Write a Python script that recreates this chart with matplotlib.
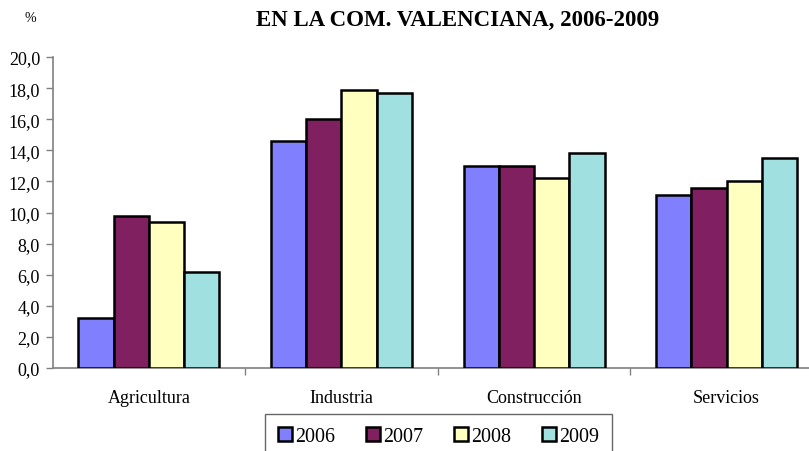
import matplotlib
matplotlib.use("Agg")
import matplotlib.pyplot as plt
import numpy as np

categories = ["Agricultura", "Industria", "Construcción", "Servicios"]
years = ["2006", "2007", "2008", "2009"]
v2006 = [3.2, 14.6, 13.0, 11.1]
v2007 = [9.8, 16.0, 13.0, 11.6]
v2008 = [9.4, 17.9, 12.2, 12.0]
v2009 = [6.2, 17.7, 13.8, 13.5]
yticks = [0, 2, 4, 6, 8, 10, 12, 14, 16, 18, 20]
ytick_labels = ["0,0", "2,0", "4,0", "6,0", "8,0", "10,0", "12,0", "14,0", "16,0", "18,0", "20,0"]

colors = ["#8080FF", "#802060", "#FFFFC0", "#A0E0E0"]
series = [v2006, v2007, v2008, v2009]

plt.rcParams["font.family"] = ["Liberation Serif", "DejaVu Serif"]

fig = plt.figure(figsize=(8.09, 4.52), dpi=100)
ax = fig.add_axes([52.5 / 809, 1 - 369 / 452, 770.5 / 809, 311 / 452])

x = np.arange(len(categories))
bw = 0.183
for i, (vals, col, yr) in enumerate(zip(series, colors, years)):
    ax.bar(x + (i - 1.5) * bw, vals, width=bw, color=col, edgecolor="black",
           linewidth=1.8, label=yr, zorder=3)

ax.set_xlim(-0.5, len(categories) - 0.5)
ax.set_ylim(0, 20)
ax.set_yticks(yticks)
ax.set_yticklabels(ytick_labels, fontsize=13)
ax.set_xticks(x)
ax.set_xticklabels(categories, fontsize=13)
ax.tick_params(axis="x", length=0, pad=15)
ax.set_xticks(np.arange(0.5, len(categories) - 0.5, 1), minor=True)
ax.tick_params(axis="x", which="minor", length=5, color="#808080", width=1)
ax.tick_params(axis="y", length=5, color="#808080", width=1, pad=4)

for side in ["top", "right"]:
    ax.spines[side].set_visible(False)
for side in ["left", "bottom"]:
    ax.spines[side].set_color("#808080")
    ax.spines[side].set_linewidth(1.2)

fig.text(458 / 809, 1 - 20 / 452, "EN LA COM. VALENCIANA, 2006-2009", ha="center", va="center",
         fontsize=16.5, fontweight="bold")
fig.text(30 / 809, 1 - 18 / 452, "%", ha="center", va="center", fontsize=10)

leg = fig.legend(loc="upper left", bbox_to_anchor=(265 / 809, 1 - 415 / 452), ncol=4,
                 fontsize=14.4, frameon=True, fancybox=False, handlelength=0.7,
                 handleheight=0.7, handletextpad=0.15, columnspacing=1.55,
                 borderpad=0.65, borderaxespad=0)
leg.get_frame().set_edgecolor("#404040")
leg.get_frame().set_linewidth(1.0)

fig.savefig("out.png", dpi=100)
